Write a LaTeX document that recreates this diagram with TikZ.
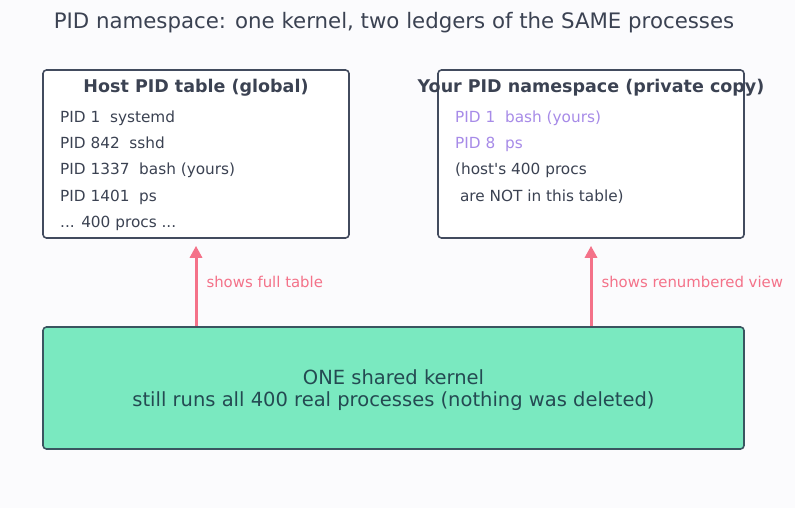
\documentclass[tikz,border=0pt]{standalone}
\usepackage{fontspec}
\setmainfont{DejaVu Sans}
\usepackage{xcolor}
\usetikzlibrary{arrows.meta,positioning,calc}
\definecolor{Paper}{HTML}{FBFBFD}
\definecolor{Slate}{HTML}{424B5E}
\definecolor{Ink}{HTML}{3B4252}
\definecolor{Lav}{HTML}{A78BE8}
\definecolor{Rose}{HTML}{F47289}
\definecolor{Mint}{HTML}{7AE9C0}
\definecolor{Deep}{HTML}{3A5560}
\definecolor{Teal}{HTML}{244A52}
\tikzset{
  ledger/.style={
    draw=Slate, rounded corners=3.5pt, line width=1.6pt,
    fill=white, minimum width=306pt, minimum height=168pt
  },
  head/.style={font=\fontsize{17.5}{20}\bfseries\selectfont,color=Ink},
  rows/.style={font=\fontsize{15.3}{26.3}\selectfont,color=Ink,align=left,
    inner sep=0pt,anchor=north west},
  core/.style={
    draw=Deep, rounded corners=3.5pt, line width=1.6pt, fill=Mint,
    minimum width=701pt, minimum height=122pt
  },
  coretext/.style={align=center,font=\fontsize{19.5}{22.5}\selectfont,text=Teal},
  arr/.style={-{Triangle[length=12pt,width=12pt]},line width=3pt,draw=Rose,
    shorten >=7pt},
  note/.style={font=\fontsize{14.9}{17}\selectfont,color=Rose,anchor=west}
}
\begin{document}
\begin{tikzpicture}[x=1pt,y=-1pt]
  \fill[Paper] (0,0) rectangle (795,508);
  \useasboundingbox (0,0) rectangle (795,508);

  \node[font=\fontsize{21.3}{24}\selectfont,color=Ink] (title) at (394,23)
    {PID namespace: one kernel, two ledgers of the SAME processes};

  % the two tables
  \node[ledger] (host) at (196,154) {};
  \node[ledger] (ns) at (591,154) {};
  \node[head] (hosthead) at (196,88) {Host PID table (global)};
  \node[head] (nshead) at (591,88) {Your PID namespace (private copy)};
  \node[rows] (hostrows) at (60,110.5) {PID 1\ \ systemd\\PID 842\ \ sshd\\
    PID 1337\ \ bash (yours)\\PID 1401\ \ ps\\... 400 procs ...};
  \node[rows] (nsrows) at (455,110.5) {\textcolor{Lav}{PID 1\ \ bash (yours)}\\
    \textcolor{Lav}{PID 8\ \ ps}\\(host\textquotesingle s 400 procs\\\ are NOT in this table)};

  % the kernel below
  \node[core] (kernel) at (393.5,388) {};
  \node[coretext] (kerneltext) at (393.5,390)
    {ONE shared kernel\\still runs all 400 real processes (nothing was deleted)};

  \draw[arr] (kernel.north -| host) -- (host.south);
  \draw[arr] (kernel.north -| ns) -- (ns.south);
  \node[note] (hostnote) at (203,282) {shows full table};
  \node[note] (nsnote) at (598,282) {shows renumbered view};
\end{tikzpicture}
\end{document}
